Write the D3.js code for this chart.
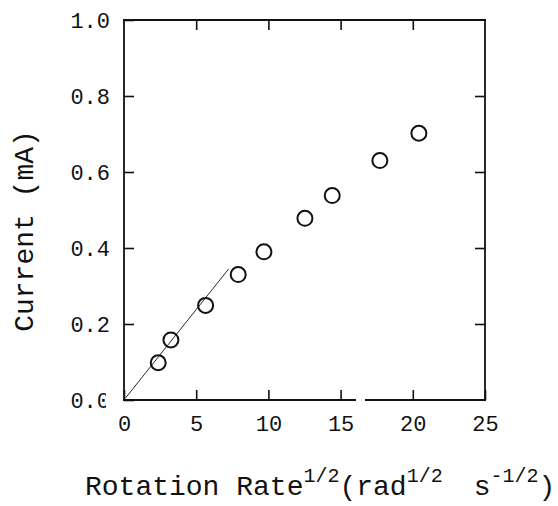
<!DOCTYPE html>
<html>
<head>
<meta charset="utf-8">
<script src="https://cdn.jsdelivr.net/npm/d3@7"></script>
<style>
  body { margin: 0; background: #fff; }
  svg { display: block; }
  .tick text { font-family: "Liberation Mono", "DejaVu Sans Mono", monospace; font-size: 22px; fill: #111; }
  .title { font-family: "Liberation Mono", "Courier New", monospace; font-size: 28px; fill: #111; }
</style>
</head>
<body>
<svg id="chart" width="558" height="506"></svg>
<script>
// rotation rate^1/2 vs current
const rotRate = [2.37, 3.25, 5.65, 7.91, 9.69, 12.53, 14.42, 17.72, 20.42];
const current = [0.098, 0.158, 0.249, 0.330, 0.390, 0.478, 0.538, 0.630, 0.702];
// straight line through the low-rate points
const fitX = [0.1, 7.25];
const fitY = [0.005, 0.345];
// the bottom axis is broken here
const axisBreak = [16.0, 16.75];
const xTicks = [0, 5, 10, 15, 20, 25];
const yTicks = [0, 0.2, 0.4, 0.6, 0.8, 1.0];

const width = 558, height = 506;
const margin = { top: 20, right: 73, bottom: 106, left: 124 };

const svg = d3.select("#chart");

const x = d3.scaleLinear().domain([0, 25]).range([margin.left, width - margin.right]);
const y = d3.scaleLinear().domain([0, 1]).range([height - margin.bottom, margin.top]);

const ink = "#111";

// the scan cuts off the right edge of the "0.0" label
svg.append("defs").append("clipPath")
  .attr("id", "cut")
  .append("rect")
  .attr("x", -70).attr("y", -20)
  .attr("width", 52).attr("height", 40);

// bottom axis: labels + inward ticks, domain drawn by hand because of the break
const xAxis = svg.append("g")
  .attr("transform", "translate(0," + y(0) + ")")
  .call(d3.axisBottom(x).tickValues(xTicks).tickSize(-10).tickPadding(15).tickFormat(d3.format("d")));
xAxis.select(".domain").remove();

// top axis, ticks only
const xTop = svg.append("g")
  .attr("transform", "translate(0," + y(1) + ")")
  .call(d3.axisTop(x).tickValues(xTicks.slice(1, -1)).tickSize(-10).tickFormat(""));
xTop.select(".domain").remove();

const yAxis = svg.append("g")
  .attr("transform", "translate(" + x(0) + ",0)")
  .call(d3.axisLeft(y).tickValues(yTicks).tickSize(-10).tickPadding(14).tickFormat(d3.format(".1f")));
yAxis.select(".domain").remove();
yAxis.selectAll(".tick text").filter(d => d === 0).attr("clip-path", "url(#cut)");

const yRight = svg.append("g")
  .attr("transform", "translate(" + x(25) + ",0)")
  .call(d3.axisRight(y).tickValues(yTicks.slice(1, -1)).tickSize(-10).tickFormat(""));
yRight.select(".domain").remove();

svg.selectAll(".tick line").attr("stroke", ink).attr("stroke-width", 1.6);

// frame
const frame = [
  [[0, 0], [axisBreak[0], 0]],
  [[axisBreak[1], 0], [25, 0]],
  [[25, 0], [25, 1]],
  [[25, 1], [0, 1]],
  [[0, 1], [0, 0]]
];
svg.append("g").selectAll("line")
  .data(frame)
  .join("line")
  .attr("x1", d => x(d[0][0])).attr("y1", d => y(d[0][1]))
  .attr("x2", d => x(d[1][0])).attr("y2", d => y(d[1][1]))
  .attr("stroke", ink)
  .attr("stroke-width", 1.8)
  .attr("stroke-linecap", "square");

// fitted line
svg.append("line")
  .attr("x1", x(fitX[0])).attr("y1", y(fitY[0]))
  .attr("x2", x(fitX[1])).attr("y2", y(fitY[1]))
  .attr("stroke", ink)
  .attr("stroke-width", 0.9);

// data points
svg.append("g").selectAll("circle")
  .data(rotRate)
  .join("circle")
  .attr("cx", d => x(d))
  .attr("cy", (d, i) => y(current[i]))
  .attr("r", 7.5)
  .attr("fill", "none")
  .attr("stroke", ink)
  .attr("stroke-width", 2);

// y title
svg.append("text")
  .attr("class", "title")
  .attr("transform", "translate(33,231)rotate(-90)")
  .attr("text-anchor", "middle")
  .text("Current (mA)");

// x title with superscripts: [text, superscript?, extra gap]
const xt = svg.append("text")
  .attr("class", "title")
  .attr("x", 85)
  .attr("y", 495);
const parts = [
  ["Rotation Rate", 0, 0], ["1/2", 1, 0], ["(rad", 0, 0], ["1/2", 1, 0],
  ["s", 0, 31], ["-1/2", 1, 0], [")", 0, 0]
];
let prevSup = 0;
parts.forEach(p => {
  xt.append("tspan")
    .attr("dy", (p[1] - prevSup) * -13)
    .attr("dx", p[2])
    .style("font-size", p[1] ? "20px" : null)
    .text(p[0]);
  prevSup = p[1];
});
</script>
</body>
</html>
